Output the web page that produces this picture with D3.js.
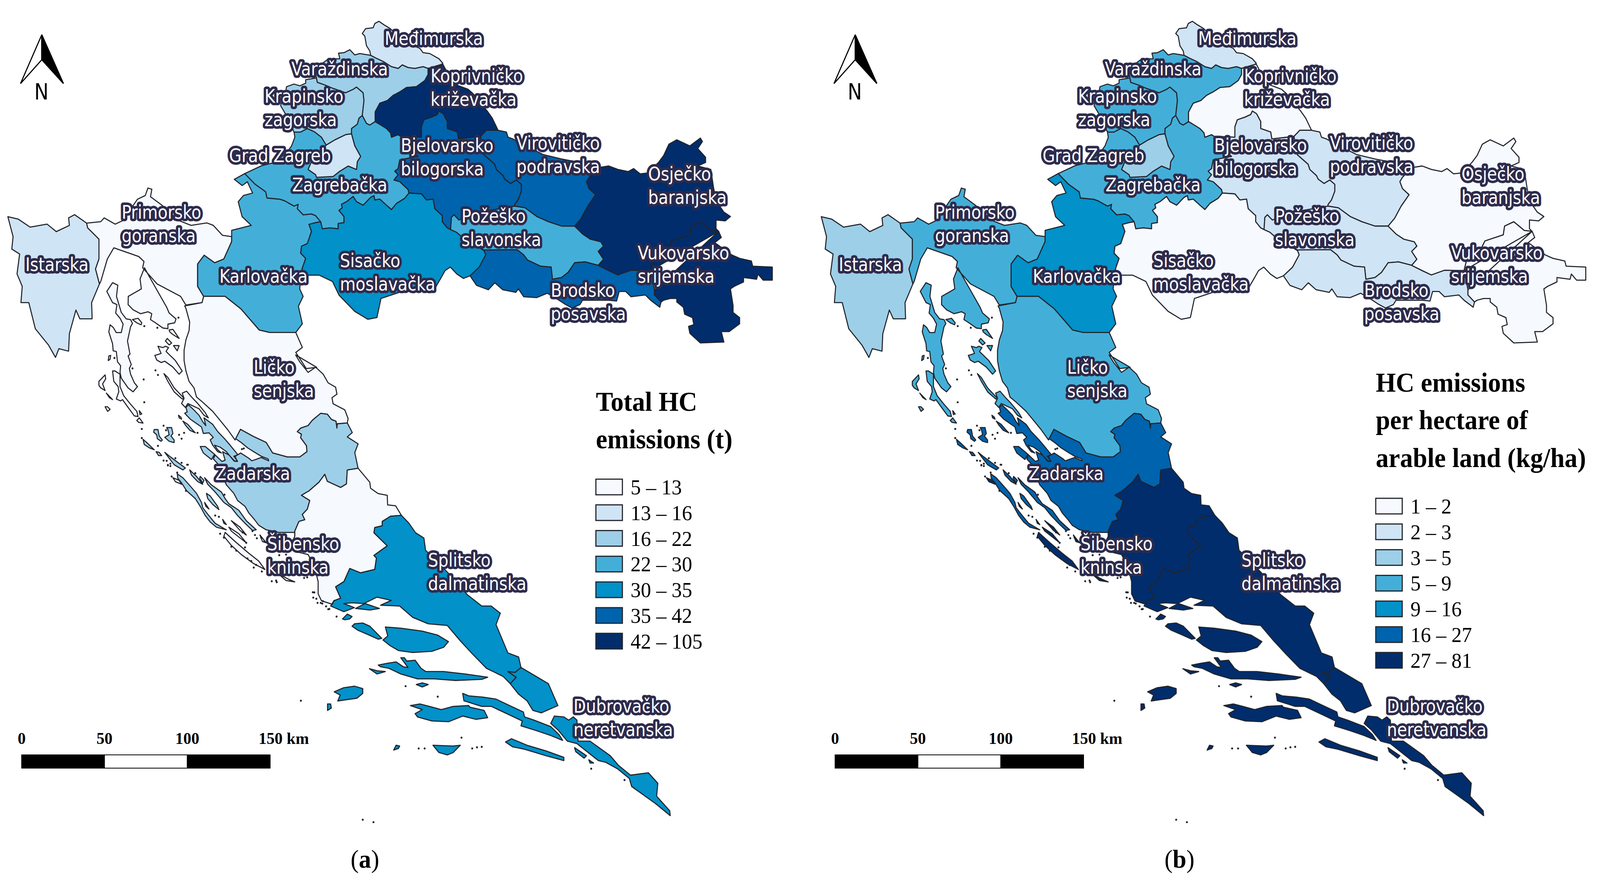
<!DOCTYPE html>
<html><head><meta charset="utf-8">
<script src="https://cdn.jsdelivr.net/npm/d3@7"></script>
<style>html,body{margin:0;background:#fff;overflow:hidden}svg{display:block;width:100vw;height:100vh}</style></head>
<body><svg id="c" viewBox="0 0 4288 2256" preserveAspectRatio="none"></svg>
<script>
// ---------- chart values ----------
const counties=["Istarska","Primorsko goranska","Karlovačka","Zagrebačka","Grad Zagreb","Krapinsko zagorska","Varaždinska","Međimurska","Koprivničko križevačka","Bjelovarsko bilogorska","Virovitičko podravska","Požeško slavonska","Brodsko posavska","Osječko baranjska","Vukovarsko srijemska","Sisačko moslavačka","Ličko senjska","Zadarska","Šibensko kninska","Splitsko dalmatinska","Dubrovačko neretvanska"];
const totalClass=[1,0,3,3,1,2,2,1,6,5,5,3,5,6,6,4,0,2,0,4,4];
const perHaClass=[2,3,4,3,2,3,3,1,0,1,1,1,1,0,0,0,3,5,6,6,6];
const blues=["#f6faff","#cfe4f4","#9dcfe8","#43afd8","#0291c8","#0063ad","#012d6d"];
const legendTotal=["5 – 13","13 – 16","16 – 22","22 – 30","30 – 35","35 – 42","42 – 105"];
const legendPerHa=["1 – 2","2 – 3","3 – 5","5 – 9","9 – 16","16 – 27","27 – 81"];
const titleTotal=["Total HC","emissions (t)"];
const titlePerHa=["HC emissions","per hectare of","arable land (kg/ha)"];
const scaleTicks=[0,50,100,150];
// label anchors, one row per county: left edge, first baseline
const labelAt=[[68,694],[326,560],[588,724],[783,490],[614,415],[709,263],[781,193],[1031,115],[1154,211],[1074,389],[1384,383],[1237,570],[1476,760],[1737,462],[1709,664],[911,684],[680,957],[577,1229],[716,1409],[1147,1451],[1537,1825]];

// ---------- geometry, traced in crops of the picture ----------
const crop=(ox,oy,w,h,n=1568)=>p=>p.map(([x,y])=>[ox+x*w/n,oy+y*h/n]);
const Z1=crop(0,0,1100,1000),Z2=crop(1000,300,1100,700),Z3=crop(300,950,900,700),Z4=crop(800,1500,1000,650),Z7=crop(750,30,700,700),Z9=crop(770,900,700,700),Z10=crop(250,780,450,450,1350),Z11=crop(380,1100,450,450,1350);
const R=a=>a.slice().reverse();
const istPrim=Z1([[331,896],[335,915],[378,960],[378,1040],[365,1080],[380,1140]]);
const istOuter=Z1([[380,1140],[350,1215],[352,1280],[305,1280],[290,1245],[265,1340],[262,1410],[225,1400],[212,1435],[185,1385],[135,1320],[110,1215],[80,1215],[85,1150],[65,1100],[75,1020],[45,1000],[50,950],[30,870],[70,880],[115,912],[180,900],[215,930],[265,905],[262,875],[285,862],[331,896]]);
const primN=Z1([[331,896],[385,890],[398,875],[440,900],[470,885],[525,800],[555,785],[565,755],[580,760],[575,790],[620,825],[670,880],[730,905],[790,895],[815,905],[850,945],[885,950]]);
const primKarl=Z1([[885,950],[885,970],[855,1040],[820,1055],[780,1025],[755,1060],[755,1150],[778,1190]]);
const primLika=Z1([[778,1190],[772,1215],[710,1225]]);
const primCoast=Z1([[710,1225],[690,1190],[600,1140],[545,1075],[550,1050],[530,1030],[435,995],[410,1040],[385,1130],[380,1140]]);
const karlTop=Z1([[885,950],[885,925],[960,905],[925,870],[910,810],[930,785],[965,775],[945,730],[925,745],[895,720],[935,697]]);
const karlZag=[...Z1([[935,697],[975,740],[1015,770],[1020,795],[1070,800]]),...Z7([[30,1085],[85,1115],[110,1105],[105,1130],[140,1165],[190,1160],[215,1170],[245,1205]])];
const karlSis=[...Z7([[245,1205],[215,1210],[175,1220],[190,1260],[165,1330],[130,1345],[125,1385],[155,1415],[135,1470]]),...Z1([[1150,1105]])];
const karlS=Z1([[1150,1105],[1145,1160],[1158,1190],[1140,1230],[1155,1300],[1130,1335]]);
const karlLika=Z1([[1130,1335],[1030,1335],[990,1325],[920,1240],[860,1190],[778,1190]]);
const zagNW=[...Z1([[935,697],[1000,665],[1040,655]]),...Z7([[40,810],[70,770],[90,720],[85,690]])];
const krapZagW=Z7([[85,690],[125,690],[165,670],[210,690],[250,720],[278,765]]);
const zagGrad=Z7([[278,765],[230,820],[190,860],[170,905],[215,935],[220,950],[320,945],[360,915],[410,885],[460,905],[465,860],[485,830],[450,770],[430,700]]);
const gradKrap=Z7([[430,700],[395,705],[330,735],[278,765]]);
const krapZagE=Z7([[430,700],[430,670],[465,645],[475,610],[495,595]]);
const varKrap=Z7([[220,380],[225,405],[270,420],[320,440],[395,465],[440,445],[460,432],[500,465],[505,510],[495,595]]);
const krapOut=Z7([[85,690],[50,620],[30,580],[5,540],[10,500],[35,460],[40,430],[85,415],[120,425],[155,410],[155,390],[220,380]]);
const varOut=Z7([[220,380],[210,340],[250,300],[285,275],[320,270],[360,270],[352,238],[385,235],[420,218],[450,248],[480,240],[545,250]]);
const medVar=Z7([[545,250],[575,265],[620,285],[670,315],[710,325],[735,305],[770,320],[810,325],[860,315],[890,325]]);
const medKop=Z7([[890,325],[965,312]]);
const medOut=Z7([[965,312],[978,295],[955,270],[900,240],[860,235],[840,210],[760,175],[700,130],[660,95],[625,75],[595,55],[570,68],[560,92],[515,97],[495,125],[510,140],[520,195],[540,225],[545,250]]);
const varKop=Z7([[890,325],[890,360],[870,395],[820,430],[760,435],[720,460],[680,480],[645,510],[600,525],[572,575],[572,630]]);
const varZag=Z7([[572,630],[540,650],[520,640],[495,595]]);
const kopZag=Z7([[572,630],[615,655],[640,670],[665,695],[670,720],[710,705],[725,715]]);
const bjelZag=Z7([[725,715],[740,750],[830,830],[720,850],[710,900],[690,915],[710,935],[685,965],[720,975],[770,1020],[775,1040]]);
const kopBjel=Z7([[725,715],[850,720],[850,660],[865,620],[910,605],[945,590],[955,570],[980,585],[1005,630],[1005,670],[1065,690],[1072,730],[1205,715]]);
const kopOut=Z7([[965,312],[978,300],[1000,340],[1060,420],[1130,445],[1160,470],[1245,570],[1275,610],[1295,650],[1310,680]]);
const virKop=Z7([[1205,715],[1240,680],[1310,680]]);
const bjelVir=Z7([[1205,715],[1225,820],[1290,875],[1300,905],[1340,940],[1350,960],[1385,985],[1420,965],[1450,990],[1450,1030],[1430,1080],[1410,1105],[1409,1115]]);
const bjelPoz=Z7([[1409,1115],[1200,1150],[1075,1195],[1045,1165],[1030,1180],[1025,1250]]);
const bjelSis=Z7([[775,1040],[850,1045],[880,1080],[920,1075],[930,1130],[975,1170],[975,1205],[1005,1240],[1025,1250]]);
const sisPoz=Z7([[1025,1250],[1060,1265],[1090,1290],[1225,1370]]);
const zagSis=Z7([[245,1205],[255,1245],[300,1240],[350,1245],[350,1215],[385,1210],[385,1175],[355,1140],[375,1125],[370,1105],[400,1090],[440,1060],[460,1090],[500,1110],[545,1065],[565,1055],[570,1080],[600,1075],[640,1110],[670,1135],[700,1100],[750,1070],[775,1040]]);
const sisBrod=Z2([[423,762],[430,790],[405,860],[370,910]]);
const sisS=[...Z2([[370,910],[345,925],[320,900],[295,860],[275,880],[260,920],[235,985],[100,1005],[30,1040]]),...Z1([[1440,1275],[1405,1282],[1355,1250],[1295,1185],[1270,1130],[1220,1105],[1150,1105]])];
const virOut=[...Z7([[1310,680],[1360,690],[1370,720],[1400,730]]),...Z2([[540,130],[650,215],[720,240],[790,260],[860,290]])];
const virOsi=Z2([[770,625],[795,580],[820,510],[850,445],[825,410],[815,370],[825,345],[860,290]]);
const virPoz=Z2([[540,510],[580,520],[625,570],[670,600],[720,625],[770,625]]);
const osiPoz=Z2([[860,850],[880,815],[860,770],[880,740],[870,715],[830,700],[800,670],[770,625]]);
const brodPoz=Z2([[860,850],[810,830],[770,835],[745,890],[720,920],[685,930],[680,860],[640,855],[590,820],[575,790],[550,760],[423,762]]);
const osiOut=Z2([[860,290],[900,280],[935,300],[975,312],[995,295],[1020,325],[1050,320],[1090,260],[1110,220],[1130,155],[1160,130],[1210,165],[1250,120],[1258,140],[1240,180],[1270,230],[1270,260],[1240,280],[1290,300],[1300,400],[1310,480],[1340,545],[1365,570],[1345,595],[1310,590],[1310,640],[1320,655]]);
const osiVuk=Z2([[1320,655],[1290,650],[1250,600],[1215,625],[1210,675],[1140,710],[1120,770],[1070,820],[1060,880]]);
const osiBrod=Z2([[1060,880],[985,878],[935,905],[900,880],[860,850]]);
const brodVuk=Z2([[1060,880],[1075,990],[1075,1020],[1100,1060]]);
const brodS=Z2([[370,910],[395,965],[440,990],[465,950],[495,990],[545,1005],[555,985],[575,1030],[625,1035],[665,1010],[700,1040],[730,1070],[760,1095],[790,1075],[800,1050],[900,1050],[930,1055],[940,1000],[965,1000],[985,1030],[1040,1020],[1060,1050],[1095,1090],[1100,1060]]);
const vukOut=Z2([[1320,655],[1330,690],[1305,720],[1370,790],[1400,810],[1445,825],[1450,855],[1525,860],[1525,935],[1490,935],[1470,900],[1465,930],[1415,920],[1415,945],[1380,970],[1365,985],[1375,1080],[1375,1120],[1400,1150],[1400,1185],[1360,1230],[1330,1230],[1340,1290],[1250,1295],[1210,1240],[1205,1200],[1225,1190],[1220,1150],[1190,1130],[1185,1090],[1160,1060],[1160,1040],[1135,1040],[1110,1050],[1100,1060]]);
const likaN=[...Z1([[1155,1395],[1130,1415],[1170,1480],[1210,1475]]),...Z9([[50,20],[75,60],[125,120],[170,90],[215,130],[245,180],[290,205],[298,245],[268,265],[275,300],[345,335],[365,385],[360,410]])];
const likaZad=[...Z9([[360,410],[300,415],[298,440],[292,400],[265,390],[240,360],[200,355],[150,395],[125,425],[80,440],[60,460],[85,475],[80,495],[115,540],[118,575],[75,605],[0,605]]),...Z3([[750,470],[720,410],[660,375],[600,335]]),...Z11([[755,70]])];
const likaCoast=Z10([[1140,1040],[1080,960],[1020,890],[960,820],[880,750],[830,710],[810,640],[770,590],[745,510],[730,430],[730,350],[745,270],[770,200],[775,135],[745,30],[735,10]]);
const zadE=Z9([[360,410],[390,465],[360,490],[425,530],[405,580],[425,670]]);
const zadSib=Z9([[425,670],[360,680],[355,760],[320,780],[240,745],[225,705],[190,750],[130,800],[85,825],[135,855],[120,905],[90,935],[105,965],[70,975],[45,1030],[45,1060]]);
const zadCoast=Z11([[1235,790],[1100,790],[1000,770],[940,735],[905,690],[860,640],[830,590],[770,545],[740,490],[680,425],[610,262],[575,225],[590,195],[645,245],[670,235],[650,170],[700,195],[750,245],[768,240],[740,205],[770,195],[795,180],[860,220],[885,240],[960,215],[1020,240],[1015,225],[960,205],[900,170],[850,140],[800,100],[755,70]]);
const sibN=Z9([[425,670],[495,750],[500,785],[545,815],[600,825],[602,880],[650,885],[685,940]]);
const sibSpl=Z9([[685,940],[620,945],[570,975],[570,1000],[525,1010],[520,1040],[600,1115],[520,1170],[535,1185],[525,1250],[440,1270],[375,1245],[340,1320],[290,1350],[320,1415],[280,1430],[270,1450]]);
const sibCoast=Z9([[270,1450],[205,1430],[185,1390],[185,1320],[165,1240],[125,1165],[60,1150],[20,1110],[45,1060]]);
const splN=[...Z9([[685,940],[730,985],[770,1040],[820,1070],[830,1140],[960,1265],[1080,1395]]),...Z4([[770,125],[810,125],[848,170],[830,240],[880,415],[925,440],[935,505]])];
const splDub=Z4([[935,505],[910,535],[880,530],[915,565],[890,605]]);
const splCoast=[...Z4([[890,605],[860,560],[790,510],[730,420],[680,340],[625,245],[545,235],[480,195],[425,125],[345,120],[390,90],[330,70],[275,110],[225,105],[190,110],[235,135],[190,160],[135,125],[150,90]]),...Z9([[270,1450]])];
const dubN=Z4([[935,505],[1050,605],[1090,740],[1020,785],[985,770],[960,710],[925,670],[890,605]]);
const rings={
 1:[[...Z1([[445,1190],[450,1145],[430,1135],[408,1170],[430,1215]]),...Z10([[190,0],[180,65],[215,105],[240,150],[225,215],[185,215],[160,175],[135,155],[125,210],[155,300],[160,355],[185,360],[195,440],[220,470],[215,520],[225,565],[280,640],[320,670],[355,630],[330,600],[300,535],[290,490],[305,460],[280,395],[295,380],[275,280],[300,170],[315,145],[300,115],[265,110],[225,60]])],
    [...Z1([[490,1190],[540,1160],[535,1120],[552,1075],[570,1110]]),...Z10([[590,20],[610,65],[665,110],[655,140],[600,150],[600,185],[560,180],[500,140],[460,115],[470,70],[440,55],[380,70],[320,40],[280,0]])],
    Z10([[315,115],[360,105],[390,140],[385,155],[350,140]]),
    Z10([[610,195],[640,190],[690,260],[640,230],[615,210]]),
    Z10([[580,280],[595,260],[630,295],[610,310]]),
    Z10([[645,315],[690,315],[675,355]]),
    Z10([[495,390],[515,385],[545,375],[520,320],[560,330],[580,320],[605,330],[585,360],[660,430],[715,510],[690,535],[640,480],[575,435],[545,445],[510,425]]),
    Z10([[45,620],[45,590],[95,540],[100,570],[75,610],[95,660],[60,640]]),
    Z10([[95,785],[115,785],[135,805],[115,820]]),
    Z10([[105,680],[155,730],[130,715]]),
    Z10([[120,430],[125,395],[140,390],[135,420]]),
    Z10([[155,510],[175,510],[215,535],[215,630],[245,700],[295,760],[350,820],[360,860],[330,855],[280,790],[235,730],[220,740],[185,725],[205,670],[200,630],[165,590]]),
    Z10([[350,890],[370,870],[400,910],[365,905]]),
    Z10([[370,815],[390,840],[375,845]])],
 16:[Z10([[568,530],[600,560],[650,640],[730,720],[715,725],[650,670],[600,590]]),
     Z10([[715,680],[750,665],[790,710],[840,760],[900,830],[925,870],[890,850],[850,800],[760,760],[740,790],[710,760],[730,720]])],
 17:[Z10([[745,790],[765,770],[810,810],[850,850],[880,900],[905,930],[890,870],[960,920],[1000,975],[1060,1035],[1100,1080],[1160,1150],[1140,1170],[1160,1205],[1130,1200],[1070,1130],[1020,1095],[975,1080],[1000,1115],[1030,1140],[1000,1130],[960,1080],[940,1040],[965,1020],[930,985],[885,990],[870,940],[780,880],[735,835],[755,825]]),
     Z10([[860,1090],[900,1090],[975,1150],[950,1190],[885,1140]]),
     Z10([[590,945],[630,945],[640,990],[625,1010],[650,1040],[650,1060],[610,1050],[575,1020],[610,1000],[600,960]]),
     Z10([[490,960],[520,960],[530,1010],[555,1040],[545,1050],[515,1030],[510,1000],[485,980]]),
     Z10([[400,1035],[430,1060],[490,1115],[450,1100],[410,1075]]),
     Z10([[720,895],[760,920],[800,965],[820,985],[775,965],[740,925]]),
     Z10([[685,850],[705,865],[710,880],[690,870]]),
     Z10([[505,1130],[530,1135],[550,1160],[525,1160]]),
     Z11([[220,220],[185,175],[230,210],[350,295],[330,310],[260,270]]),
     Z11([[285,340],[330,370],[395,440],[440,490],[480,560],[490,600],[530,650],[590,720],[660,760],[680,770],[600,750],[550,710],[510,660],[470,590],[430,530],[360,470],[320,410],[290,375]]),
     Z11([[385,310],[440,360],[490,420],[450,400],[400,350]]),
     Z11([[470,360],[500,390],[490,410],[465,375]]),
     Z11([[505,370],[560,425],[640,480],[670,530],[700,570],[780,620],[840,700],[920,770],[890,775],[830,720],[770,660],[720,600],[660,560],[590,480],[530,420]]),
     Z11([[520,490],[550,510],[610,590],[620,615],[570,575],[530,530]])],
 18:[Z11([[505,560],[540,610],[515,590]]),
     Z11([[700,750],[780,800],[840,870],[800,840],[720,780]]),
     Z11([[670,790],[750,860],[860,950],[940,1010],[990,1075],[900,1030],[800,960],[720,890],[660,820]]),
     Z11([[720,700],[790,750],[840,810],[790,775]]),
     Z11([[650,690],[680,730],[660,720]]),
     Z11([[1100,1110],[1180,1150],[1230,1170],[1160,1160]]),
     Z11([[950,810],[1000,870],[970,860]]),
     Z11([[250,370],[300,390],[320,420],[270,400]])],
 19:[Z4([[365,255],[430,262],[520,280],[585,305],[630,345],[610,380],[560,405],[480,412],[420,400],[385,370],[355,335],[375,310]]),
     Z4([[235,235],[270,230],[300,250],[330,295],[350,325],[335,330],[290,300],[250,275],[225,250]]),
     Z4([[335,490],[370,480],[410,470],[440,500],[460,505],[430,445],[445,445],[455,465],[490,460],[515,510],[535,530],[610,530],[700,545],[795,565],[770,578],[660,585],[570,575],[500,575],[430,545],[380,510],[345,500]]),
     Z4([[495,610],[520,600],[545,610],[520,625]]),
     Z4([[150,655],[190,630],[235,620],[270,635],[270,665],[245,695],[195,705],[165,712],[175,675]]),
     Z4([[122,730],[135,730],[138,755],[122,770]]),
     Z4([[185,205],[205,175],[225,190],[215,205],[195,210]]),
     Z4([[240,140],[280,110],[340,140],[300,150]]),
     Z4([[298,512],[330,525],[365,530],[330,545]])],
 20:[Z4([[1060,850],[1075,805],[1115,810],[1135,830],[1155,810],[1170,830],[1175,960],[1225,960],[1310,1050],[1345,1110],[1395,1170],[1470,1155],[1510,1220],[1505,1300],[1560,1390],[1562,1420],[1500,1345],[1400,1240],[1390,1190],[1340,1130],[1290,1090],[1260,1080],[1200,1010],[1170,975],[1130,960],[1090,890]]),
     Z4([[690,665],[715,680],[775,688],[830,700],[880,735],[945,780],[950,810],[990,830],[1060,870],[1095,920],[1110,955],[1060,925],[1000,895],[935,865],[940,835],[890,800],[810,745],[770,745],[695,710]]),
     Z4([[470,740],[510,730],[550,745],[600,765],[650,745],[715,740],[720,750],[780,770],[795,815],[745,825],[690,805],[630,840],[560,835],[500,810],[490,790],[520,765],[490,750]]),
     Z4([[870,965],[895,945],[960,985],[1040,1020],[1115,1060],[1115,1080],[1040,1050],[950,1010],[900,995]]),
     Z4([[565,985],[650,990],[680,985],[650,1030],[625,1045],[590,1030]]),
     Z4([[400,1015],[410,985],[425,990],[420,1005]]),
     Z4([[1160,1000],[1210,1050],[1200,1065],[1165,1025]]),
     Z4([[1220,1075],[1240,1095],[1225,1095]])]
};
const s1=a=>a.slice(1);
const mains=[
 [...istPrim,...s1(istOuter)],
 [...primN,...s1(primKarl),...s1(primLika),...s1(primCoast),...s1(R(istPrim))],
 [...R(primKarl),...s1(karlTop),...s1(karlZag),...s1(karlSis),...s1(karlS),...s1(karlLika)],
 [...zagNW,...s1(krapZagW),...s1(zagGrad),...s1(krapZagE),...s1(R(varZag)),...s1(kopZag),...s1(bjelZag),...s1(R(zagSis)),...s1(R(karlZag))],
 [...zagGrad,...s1(gradKrap)],
 [...varKrap,...s1(R(krapZagE)),...s1(gradKrap),...s1(R(krapZagW)),...s1(krapOut)],
 [...varOut,...s1(medVar),...s1(varKop),...s1(varZag),...s1(R(varKrap))],
 [...medOut,...s1(medVar),...s1(medKop)],
 [...R(medKop),...s1(kopOut),...s1(R(virKop)),...s1(R(kopBjel)),...s1(R(kopZag)),...s1(R(varKop))],
 [...kopBjel,...s1(bjelVir),...s1(bjelPoz),...s1(R(bjelSis)),...s1(R(bjelZag))],
 [...virKop,...s1(virOut),...s1(R(virOsi)),...s1(R(virPoz)),...s1(R(bjelVir))],
 [...R(bjelPoz),...s1(virPoz),...s1(R(osiPoz)),...s1(brodPoz),...s1(R(sisPoz))],
 [...sisBrod,...s1(brodS),...s1(R(brodVuk)),...s1(osiBrod),...s1(brodPoz)],
 [...osiOut,...s1(osiVuk),...s1(osiBrod),...s1(osiPoz),...s1(virOsi)],
 [...R(osiVuk),...s1(brodVuk),...s1(R(vukOut))],
 [...zagSis,...s1(bjelSis),...s1(sisPoz),...sisBrod,...s1(sisS),...s1(R(karlSis))],
 [...R(karlLika),...s1(R(primLika)).slice(0,0),...Z1([[1130,1335]]),...likaN,...s1(likaZad),...likaCoast,...s1(R(primLika))],
 [...zadE,...s1(zadSib),...zadCoast,...s1(R(likaZad))],
 [...sibN,...s1(sibSpl),...s1(sibCoast),...s1(R(zadSib))],
 [...sibSpl,...s1(R(splCoast)),...s1(R(splDub)),...s1(R(splN))],
 [...splDub,...s1(R(dubN))]
];
const specks=[...Z10([[685,100],[515,178],[410,165],[500,505],[520,540],[405,575],[410,750],[315,490],[170,410],[390,955],[565,930],[390,1025],[730,985],[838,985],[690,1000],[710,1030],[1195,1110],[1210,1105],[520,1085],[585,965],[660,1180],[710,1215],[760,1230],[600,1235],[620,1240]]),
 ...Z11([[210,272],[230,262],[175,238],[200,240],[270,220],[320,255],[365,270],[240,360],[285,330],[355,470],[665,500],[620,670],[840,870],[830,905],[810,790],[1045,1165],[1080,1160],[1085,1172],[1305,1140],[1330,1135],[630,800],[660,830],[720,900],[760,930],[850,990],[900,1060],[965,1090],[880,1010],[920,1040],[890,780],[910,810],[925,835],[960,830],[985,860],[430,335],[590,660],[1160,960],[1105,965]]),
 ...Z3([[945,1270],[940,1300],[975,1330],[1000,1350],[985,1320],[1015,1365],[960,1330]]),
 ...Z4([[10,710],[450,620],[585,685],[685,938],[730,1005],[750,998],[770,995],[530,1005],[505,1005],[270,1445],[315,1460],[1230,1130],[1370,1200],[160,190],[60,40],[75,80],[100,110],[125,145]])];
const close=r=>[...r,r[0]];
const features=counties.map((n,i)=>({type:"Feature",properties:{name:n,i},geometry:{type:"MultiPolygon",coordinates:[[close(mains[i])],...(rings[i]||[]).map(r=>[close(r)])]}}));

// ---------- drawing ----------
const svg=d3.select("#c");
const panels=[
 {dx:0,cls:totalClass,legend:legendTotal,title:titleTotal,tx:1597,ty:1052,ly:1227,cap:"a",capX:978},
 {dx:2180,cls:perHaClass,legend:legendPerHa,title:titlePerHa,tx:1507,ty:1003,ly:1276,cap:"b",capX:981}
];
const SERIF='"Liberation Serif",serif';
const SANS='"DejaVu Sans Condensed","DejaVu Sans",sans-serif';
panels.forEach(P=>{
 const path=d3.geoPath(d3.geoIdentity().translate([P.dx,0])).pointRadius(2.6);
 const g=svg.append("g");
 const gm=g.append("g");
 gm.selectAll("path.c").data(features).join("path").attr("class","c").attr("d",path)
   .attr("fill",d=>blues[P.cls[d.properties.i]]).attr("stroke","#22242c").attr("stroke-width",2.8).attr("stroke-linejoin","round");
 gm.append("path").datum({type:"MultiPoint",coordinates:specks}).attr("d",path).attr("fill","#22242c");
 const gl=g.append("g").attr("transform",`translate(${P.dx},0)`);
 const lab=gl.selectAll("text.l").data(counties).join("text").attr("class","l")
  .attr("font-family",SANS).attr("font-stretch","condensed").attr("font-size",48).attr("fill","#fff")
  .attr("stroke","#2d2b4c").attr("stroke-width",13).attr("stroke-linejoin","round").attr("paint-order","stroke");
 lab.each(function(n,i){const t=d3.select(this);
   const lines=n==="Grad Zagreb"?[n]:n.split(" ");
   lines.forEach((w,k)=>t.append("tspan").attr("x",labelAt[i][0]).attr("y",labelAt[i][1]+k*60).text(w));
 });
 const ty=d3.scalePoint().domain(d3.range(P.title.length)).range([P.ty,P.ty+96.5*(P.title.length-1)]);
 gl.selectAll("text.t").data(P.title).join("text").attr("class","t").attr("x",P.tx).attr("y",(d,i)=>ty(i))
  .attr("font-family",SERIF).attr("font-weight","bold").attr("font-size",69).attr("fill","#000").text(d=>d);
 const ly=d3.scaleBand().domain(d3.range(7)).range([P.ly,P.ly+65.8*7]);
 gl.selectAll("rect.k").data(P.legend).join("rect").attr("class","k").attr("x",P.tx).attr("y",(d,i)=>ly(i)).attr("width",71).attr("height",40)
  .attr("fill",(d,i)=>blues[i]).attr("stroke","#23262d").attr("stroke-width",3);
 gl.selectAll("text.k").data(P.legend).join("text").attr("class","k").attr("x",P.tx+93).attr("y",(d,i)=>ly(i)+39)
  .attr("font-family",SERIF).attr("font-size",55).attr("fill","#000").text(d=>d);
 const sx=d3.scaleLinear().domain([0,150]).range([58,724]);
 gl.selectAll("rect.s").data(d3.pairs(scaleTicks)).join("rect").attr("class","s").attr("x",d=>sx(d[0])).attr("y",1933).attr("width",d=>sx(d[1])-sx(d[0])).attr("height",34)
  .attr("fill",(d,i)=>i===1?"#fff":"#000").attr("stroke","#000").attr("stroke-width",2);
 gl.selectAll("text.s").data(scaleTicks).join("text").attr("class","s").attr("x",sx).attr("y",1905).attr("text-anchor",d=>d===150?"start":"middle").attr("dx",d=>d===150?-31:0)
  .attr("font-family",SERIF).attr("font-weight","bold").attr("font-size",43).attr("fill","#000").text(d=>d===150?"150 km":d);
 const ln=d3.line();
 gl.append("path").attr("d",ln([[112,89],[55,214],[112,153]])+"Z").attr("fill","#fff").attr("stroke","#000").attr("stroke-width",3);
 gl.append("path").attr("d",ln([[112,89],[170,214],[112,153]])+"Z").attr("fill","#000").attr("stroke","#000").attr("stroke-width",3);
 gl.append("text").attr("x",111).attr("y",255).attr("text-anchor","middle").attr("font-family",'"DejaVu Sans",sans-serif').attr("font-size",57).attr("fill","#000").attr("font-stretch","condensed").text("N");
 const cap=gl.append("text").attr("x",P.capX).attr("y",2222).attr("text-anchor","middle").attr("font-family",SERIF).attr("font-size",66).attr("fill","#000");
 cap.append("tspan").text("(");cap.append("tspan").attr("font-weight","bold").text(P.cap);cap.append("tspan").text(")");
});
</script></body></html>
